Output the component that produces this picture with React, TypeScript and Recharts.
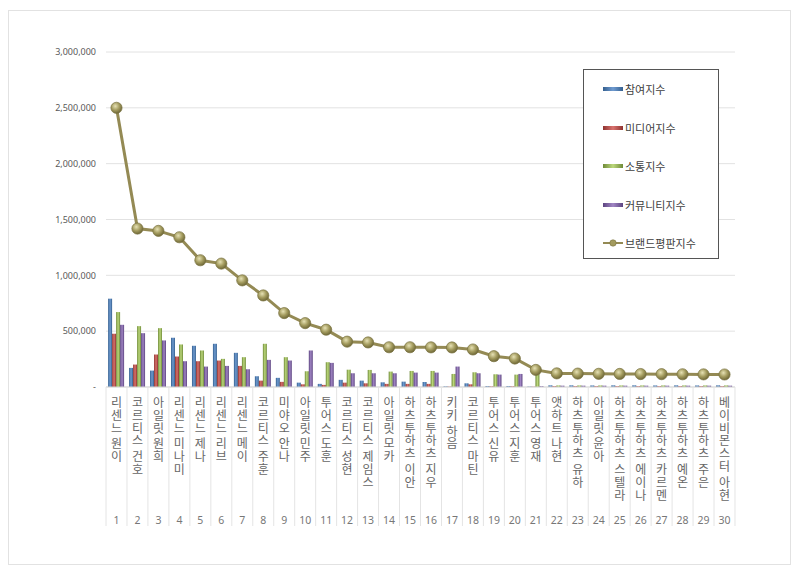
import React from 'react';
import { ComposedChart, Bar, Line, XAxis, YAxis, CartesianGrid } from 'recharts';

const names = [
  '리센느 원이', '코르티스 건호', '아일릿 원희', '리센느 미나미', '리센느 제나',
  '리센느 리브', '리센느 메이', '코르티스 주훈', '미야오 안나', '아일릿 민주',
  '투어스 도훈', '코르티스 성현', '코르티스 제임스', '아일릿 모카', '하츠투하츠 이안',
  '하츠투하츠 지우', '키키 하음', '코르티스 마틴', '투어스 신유', '투어스 지훈',
  '투어스 영재', '앳하트 나현', '하츠투하츠 유하', '아일릿 윤아', '하츠투하츠 스텔라',
  '하츠투하츠 에이나', '하츠투하츠 카르멘', '하츠투하츠 예온', '하츠투하츠 주은', '베이비몬스터 아현',
];
const ranks = [
  '1', '2', '3', '4', '5', '6', '7', '8', '9', '10',
  '11', '12', '13', '14', '15', '16', '17', '18', '19', '20',
  '21', '22', '23', '24', '25', '26', '27', '28', '29', '30',
];
const participation = [
  791000, 171000, 147000, 441000, 369000, 387000, 306000, 96000, 82000, 39000,
  28000, 64000, 57000, 42000, 48000, 45000, 6000, 33000, 9000, 9000,
  4000, 15000, 15000, 14000, 15000, 15000, 14000, 15000, 14000, 15000,
];
const media = [
  477000, 201000, 291000, 273000, 231000, 237000, 189000, 57000, 46000, 24000,
  19000, 39000, 33000, 28000, 28000, 28000, 4000, 24000, 6000, 6000,
  3000, 8000, 8000, 8000, 8000, 8000, 8000, 8000, 8000, 8000,
];
const communication = [
  671000, 545000, 527000, 381000, 327000, 252000, 267000, 387000, 267000, 141000,
  222000, 155000, 153000, 138000, 144000, 144000, 117000, 132000, 114000, 111000,
  153000, 14000, 14000, 14000, 14000, 14000, 14000, 14000, 14000, 14000,
];
const community = [
  557000, 482000, 417000, 231000, 183000, 189000, 159000, 243000, 237000, 327000,
  216000, 123000, 123000, 123000, 129000, 129000, 183000, 123000, 111000, 117000,
  8000, 12000, 12000, 12000, 12000, 12000, 12000, 12000, 12000, 12000,
];
const brand = [
  2500000, 1419000, 1398000, 1341000, 1135000, 1105000, 955000, 820000, 662000, 572000,
  513000, 406000, 399000, 356000, 356000, 355000, 354000, 336000, 276000, 255000,
  153000, 122000, 120000, 118000, 117000, 116000, 115000, 114000, 113000, 112000,
];
const yTicks = [0, 500000, 1000000, 1500000, 2000000, 2500000, 3000000];

const data = names.map((name, i) => ({
  name,
  rank: ranks[i],
  p: participation[i],
  m: media[i],
  c: communication[i],
  u: community[i],
  b: brand[i],
}));

const BAR_COLORS = {
  p: ['#35608f', '#6f9bd1'],
  m: ['#8f3330', '#d9736f'],
  c: ['#6f8a38', '#bcd87c'],
  u: ['#5c4480', '#a186c4'],
};

const legendItems = [
  { key: 'p', label: '참여지수', type: 'bar' },
  { key: 'm', label: '미디어지수', type: 'bar' },
  { key: 'c', label: '소통지수', type: 'bar' },
  { key: 'u', label: '커뮤니티지수', type: 'bar' },
  { key: 'b', label: '브랜드평판지수', type: 'line' },
];

const KFONT = '"Noto Sans CJK KR", "Noto Sans", sans-serif';
const HALF_BAND = 10.48;

const CategoryTick = (props: any) => {
  const { x, y, payload, index } = props;
  const label: string = payload.value;
  const rank = data[index] ? data[index].rank : '';
  const chars: { ch: string; cy: number }[] = [];
  let cy = y + 20;
  for (const ch of label) {
    if (ch === ' ') {
      cy += 3;
      continue;
    }
    chars.push({ ch, cy });
    cy += 12.8;
  }
  return (
    <g>
      <line x1={x - HALF_BAND} x2={x - HALF_BAND} y1={y} y2={y + 139} stroke="#e4e4e4" strokeWidth={1} />
      {index === names.length - 1 && (
        <line x1={x + HALF_BAND} x2={x + HALF_BAND} y1={y} y2={y + 139} stroke="#e4e4e4" strokeWidth={1} />
      )}
      {chars.map((c, i) => (
        <text key={i} x={x} y={c.cy} textAnchor="middle" fontSize={12} fill="#666666" fontFamily={KFONT}>
          {c.ch}
        </text>
      ))}
      <text x={x} y={y + 137} textAnchor="middle" fontSize={10.5} fill="#777777" fontFamily='"Noto Sans", sans-serif'>
        {rank}
      </text>
    </g>
  );
};

const LegendBox = () => (
  <div
    style={{
      position: 'absolute',
      left: 583,
      top: 69,
      width: 134,
      height: 188,
      border: '1px solid #555555',
      background: '#ffffff',
      boxSizing: 'content-box',
    }}
  >
    {legendItems.map((it, i) => (
      <div
        key={it.key}
        style={{
          position: 'absolute',
          left: 18,
          top: 11 + i * 38.5,
          height: 16,
          display: 'flex',
          alignItems: 'center',
          fontFamily: KFONT,
          fontSize: 11,
          color: '#404040',
          whiteSpace: 'nowrap',
        }}
      >
        <svg width={22} height={10} style={{ marginRight: 1 }}>
          {it.type === 'bar' ? (
            <rect x={1} y={3} width={20} height={4} fill={`url(#lg-${it.key})`} />
          ) : (
            <g>
              <line x1={1} x2={21} y1={5} y2={5} stroke="#948a54" strokeWidth={2} />
              <circle cx={11} cy={5} r={3.2} fill="#a39b5e" stroke="#7a7240" strokeWidth={0.6} />
            </g>
          )}
        </svg>
        {it.label}
      </div>
    ))}
  </div>
);

const yFormat = (v: number) => (v === 0 ? '-' : v.toLocaleString('en-US'));

export default function App() {
  return (
    <div style={{ position: 'absolute', left: 0, top: 0, width: 800, height: 574, background: '#ffffff' }}>
      <div
        style={{
          position: 'absolute',
          left: 8,
          top: 10,
          width: 783,
          height: 555,
          border: '1px solid #e2e2e2',
          boxSizing: 'border-box',
        }}
      />
      <div style={{ position: 'absolute', left: 0, top: 0 }}>
        <ComposedChart
          width={800}
          height={574}
          data={data}
          margin={{ top: 52, right: 65, bottom: 47, left: 46 }}
          barCategoryGap="10%"
          barGap={0}
        >
          <defs>
            {Object.entries(BAR_COLORS).map(([k, [dark, light]]) => (
              <linearGradient key={k} id={`lg-${k}`} x1="0" y1="0" x2="1" y2="0">
                <stop offset="0%" stopColor={dark} />
                <stop offset="50%" stopColor={light} />
                <stop offset="100%" stopColor={dark} />
              </linearGradient>
            ))}
            <radialGradient id="dotGrad" cx="40%" cy="35%" r="65%">
              <stop offset="0%" stopColor="#e6e1b4" />
              <stop offset="55%" stopColor="#a39b5e" />
              <stop offset="100%" stopColor="#6f6838" />
            </radialGradient>
          </defs>
          <CartesianGrid vertical={false} stroke="#e2e2e2" />
          <XAxis
            dataKey="name"
            interval={0}
            height={140}
            tickSize={0}
            tickMargin={0}
            axisLine={{ stroke: '#d9d9d9' }}
            tickLine={false}
            tick={<CategoryTick />}
          />
          <YAxis
            width={60}
            domain={[0, 3000000]}
            ticks={yTicks}
            interval={0}
            axisLine={false}
            tickLine={false}
            tickMargin={4}
            tickFormatter={yFormat}
            tick={{ fontSize: 9, fill: '#595959', fontFamily: '"Noto Sans", sans-serif' }}
          />
          <Bar dataKey="p" name="참여지수" fill="url(#lg-p)" isAnimationActive={false} />
          <Bar dataKey="m" name="미디어지수" fill="url(#lg-m)" isAnimationActive={false} />
          <Bar dataKey="c" name="소통지수" fill="url(#lg-c)" isAnimationActive={false} />
          <Bar dataKey="u" name="커뮤니티지수" fill="url(#lg-u)" isAnimationActive={false} />
          <Line
            dataKey="b"
            name="브랜드평판지수"
            type="linear"
            stroke="#948a54"
            strokeWidth={3}
            dot={{ r: 5.6, fill: 'url(#dotGrad)', stroke: '#7a7240', strokeWidth: 0.7 }}
            activeDot={false}
            isAnimationActive={false}
          />
        </ComposedChart>
      </div>
      <LegendBox />
    </div>
  );
}
